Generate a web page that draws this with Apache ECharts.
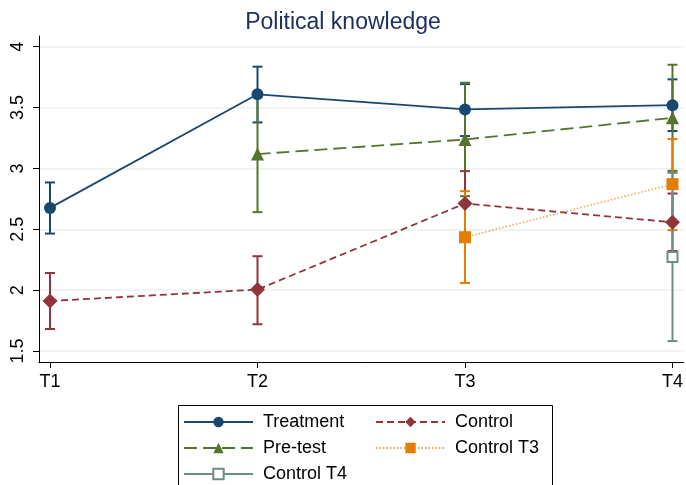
<!DOCTYPE html>
<html>
<head>
<meta charset="utf-8">
<script src="https://cdn.jsdelivr.net/npm/echarts@6/dist/echarts.min.js"></script>
<style>
  html, body { margin: 0; padding: 0; background: #fff; }
  #chart { width: 686px; height: 485px; }
</style>
</head>
<body>
<div id="chart"></div>
<script>
// 데이터
var categories = ['T1', 'T2', 'T3', 'T4'];
var yTicks = [1.5, 2, 2.5, 3, 3.5, 4];

var treatMean = [2.676, 3.609, 3.485, 3.520];
var treatLo   = [2.465, 3.378, 3.266, 3.307];
var treatHi   = [2.885, 3.836, 3.693, 3.732];

var preMean = [null, 3.118, 3.238, 3.416];
var preLo   = [null, 2.641, 2.772, 2.980];
var preHi   = [null, 3.595, 3.704, 3.852];

var ctrlMean = [1.911, 2.005, 2.712, 2.558];
var ctrlLo   = [1.681, 1.720, 2.446, 2.322];
var ctrlHi   = [2.141, 2.279, 2.978, 2.794];

var ct3Mean = [null, null, 2.435, 2.871];
var ct3Lo   = [null, null, 2.059, 2.493];
var ct3Hi   = [null, null, 2.813, 3.241];

var ct4Mean = [null, null, null, 2.273];
var ct4Lo   = [null, null, null, 1.582];
var ct4Hi   = [null, null, null, 2.964];

function pts(arr) {
    var out = [];
    arr.forEach(function (v, i) { if (v != null) out.push([i + 1, v]); });
    return out;
}
function bars(lo, hi) {
    var out = [];
    lo.forEach(function (v, i) { if (v != null) out.push([i + 1, v, hi[i]]); });
    return out;
}
// 신뢰구간 (rcap)
function errSeries(name, lo, hi, color) {
    return {
        name: name + ' CI',
        type: 'custom',
        data: bars(lo, hi),
        encode: { x: 0, y: [1, 2] },
        renderItem: function (params, api) {
            var x = api.value(0);
            var a = api.coord([x, api.value(1)]);
            var b = api.coord([x, api.value(2)]);
            var w = 5;
            var st = { stroke: color, lineWidth: 2 };
            return {
                type: 'group',
                children: [
                    { type: 'line', shape: { x1: a[0], y1: a[1], x2: b[0], y2: b[1] }, style: st },
                    { type: 'line', shape: { x1: a[0] - w, y1: a[1], x2: a[0] + w, y2: a[1] }, style: st },
                    { type: 'line', shape: { x1: b[0] - w, y1: b[1], x2: b[0] + w, y2: b[1] }, style: st }
                ]
            };
        }
    };
}

var cNavy = '#1a476f', cGreen = '#55752f', cMaroon = '#90353b', cOrange = '#e37e00', cTeal = '#6e8e84';

var myChart = echarts.init(document.getElementById('chart'));

var option = {
    animation: false,
    textStyle: { fontFamily: 'Liberation Sans, Arial, sans-serif' },
    title: {
        text: 'Political knowledge',
        left: 'center',
        top: 6,
        textStyle: { fontSize: 23, fontWeight: 'normal', color: '#1e3060' }
    },
    grid: { left: 39, right: 0, top: 36, bottom: 123, containLabel: false },
    xAxis: {
        type: 'value',
        min: 0.947,
        max: 4.053,
        axisLine: { lineStyle: { color: '#000', width: 1 } },
        axisTick: { customValues: [1, 2, 3, 4], length: 6, lineStyle: { color: '#000' } },
        axisLabel: {
            customValues: [1, 2, 3, 4],
            margin: 11,
            fontSize: 18,
            color: '#000',
            formatter: function (v) { return categories[Math.round(v) - 1]; }
        },
        splitLine: { show: false }
    },
    yAxis: {
        type: 'value',
        min: 1.41,
        max: 4.088,
        axisLine: { show: true, lineStyle: { color: '#000', width: 1 } },
        axisTick: { show: true, customValues: yTicks, length: 6, lineStyle: { color: '#000' } },
        axisLabel: {
            customValues: yTicks,
            rotate: 90,
            margin: 12,
            fontSize: 18,
            color: '#000'
        },
        splitLine: { show: true, lineStyle: { color: '#eaf2f3', width: 1.5 } }
    },
    legend: [{
        data: ['Treatment', 'Pre-test', 'Control T4'],
        orient: 'vertical',
        left: 183,
        top: 413,
        padding: 0,
        itemWidth: 69,
        itemHeight: 13,
        itemGap: 8,
        textStyle: { fontSize: 18, color: '#000', padding: [0, 0, 0, 5] }
    }, {
        data: ['Control', 'Control T3'],
        orient: 'vertical',
        left: 375,
        top: 413,
        padding: 0,
        itemWidth: 69,
        itemHeight: 13,
        itemGap: 8,
        textStyle: { fontSize: 18, color: '#000', padding: [0, 0, 0, 5] }
    }],
    graphic: [{
        type: 'rect',
        left: 176,
        top: 403,
        shape: { width: 374, height: 100 },
        style: { fill: 'none', stroke: '#000', lineWidth: 1 },
        silent: true
    }],
    series: [
        errSeries('Treatment', treatLo, treatHi, cNavy),
        errSeries('Pre-test', preLo, preHi, cGreen),
        errSeries('Control', ctrlLo, ctrlHi, cMaroon),
        errSeries('Control T3', ct3Lo, ct3Hi, cOrange),
        errSeries('Control T4', ct4Lo, ct4Hi, cTeal),
        {
            name: 'Treatment', type: 'line', data: pts(treatMean),
            color: cNavy, symbol: 'circle', symbolSize: 12,
            lineStyle: { width: 1.8, type: 'solid' }
        },
        {
            name: 'Pre-test', type: 'line', data: pts(preMean),
            color: cGreen, symbol: 'triangle', symbolSize: 13,
            lineStyle: { width: 1.8, type: [13, 6] }
        },
        {
            name: 'Control', type: 'line', data: pts(ctrlMean),
            color: cMaroon, symbol: 'diamond', symbolSize: 15,
            lineStyle: { width: 1.8, type: [7, 4] }
        },
        {
            name: 'Control T3', type: 'line', data: pts(ct3Mean),
            color: cOrange, symbol: 'rect', symbolSize: 12,
            lineStyle: { width: 1.5, type: [1.5, 2], opacity: 0.7 }
        },
        {
            name: 'Control T4', type: 'line', data: pts(ct4Mean),
            color: cTeal, symbol: 'emptyRect', symbolSize: 10,
            itemStyle: { borderWidth: 1.5 },
            lineStyle: { width: 1.8, type: 'solid' }
        }
    ]
};

myChart.setOption(option);

window.addEventListener('resize', function () {
    myChart.resize();
});
</script>
</body>
</html>
